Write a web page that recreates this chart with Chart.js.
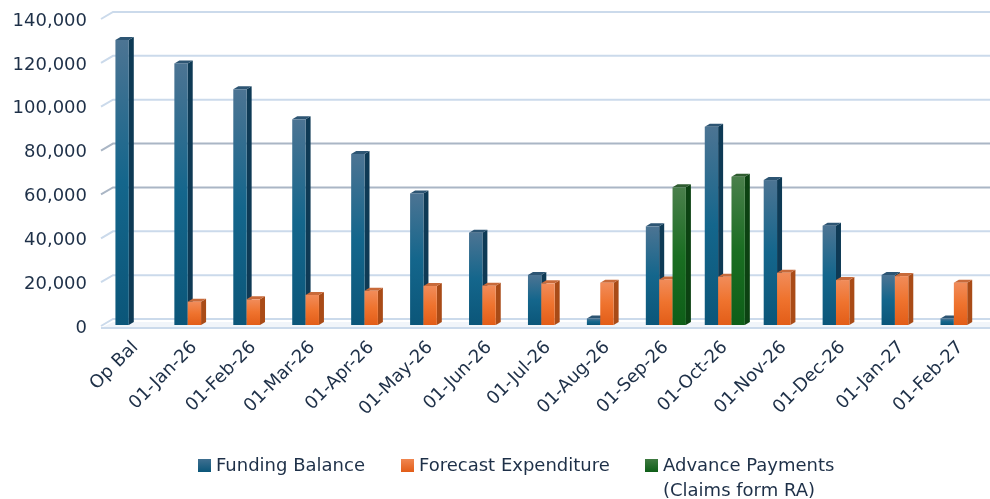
<!DOCTYPE html>
<html>
<head>
<meta charset="utf-8">
<script src="https://cdn.jsdelivr.net/npm/chart.js@4.4.1/dist/chart.umd.min.js"></script>
<style>
  html, body { margin: 0; padding: 0; background: #ffffff; }
  #wrap { position: relative; width: 990px; height: 499px; }
  #legend { position: absolute; left: 0; top: 452px; width: 990px; font-family: "DejaVu Sans", sans-serif; font-size: 18px; color: #1e3048; }
  .li { position: absolute; top: 0; line-height: 25px; }
  .sw { position: absolute; left: 0; top: 7px; width: 13px; height: 13px; }
  .tx { position: absolute; left: 18px; top: 0; white-space: nowrap; }
</style>
</head>
<body>
<div id="wrap">
  <canvas id="c" width="990" height="499"></canvas>
  <div id="legend"></div>
</div>
<script>
const categories = ["Op Bal","01-Jan-26","01-Feb-26","01-Mar-26","01-Apr-26","01-May-26","01-Jun-26","01-Jul-26","01-Aug-26","01-Sep-26","01-Oct-26","01-Nov-26","01-Dec-26","01-Jan-27","01-Feb-27"];
const fundingBalance = [130000,119300,107500,93800,78000,60000,42100,22800,3000,45000,90400,66100,45300,22800,3000];
const forecastExpenditure = [null,10600,11700,13700,15600,17800,17900,19000,19300,20800,22000,23800,20500,22300,19300];
const advancePayments = [null,null,null,null,null,null,null,null,null,62800,67600,null,null,null,null];
const seriesNames = ["Funding Balance","Forecast Expenditure",["Advance Payments","(Claims form RA)"]];
const yTicks = [0,20000,40000,60000,80000,100000,120000,140000];

const palettes = [
  {top:"#4c7493", mid:"#14668c", bot:"#0b5679", side:"#0e3a55", cap:"#2d5573", sw:["#3f6f90","#0b5679"]},
  {top:"#f18c5a", mid:"#ef732e", bot:"#e25d18", side:"#a94b17", cap:"#c86a3a", sw:["#f08650","#e25d18"]},
  {top:"#4a7f4b", mid:"#1a6e22", bot:"#0e5e18", side:"#0c4212", cap:"#2f5c30", sw:["#3f7a41","#0e5e18"]}
];
const DX = 5, DY = -3;     // bar depth
const WX = 12, WY = -6;    // wall depth
const AREA = { top: 18, bottom: 325, left: 106, right: 990 };

const gridPlugin = {
  id: "grid3d",
  afterLayout(chart) {
    const a = chart.chartArea;
    a.top = AREA.top; a.bottom = AREA.bottom; a.left = AREA.left; a.right = AREA.right;
    a.width = a.right - a.left; a.height = a.bottom - a.top;
    const y = chart.scales.y, x = chart.scales.x;
    y.top = AREA.top; y.bottom = AREA.bottom; y.height = AREA.bottom - AREA.top;
    y.configure();
    x.left = AREA.left; x.right = AREA.right; x.width = AREA.right - AREA.left;
    x.configure();
  },
  beforeDatasetsDraw(chart) {
    const ctx = chart.ctx, y = chart.scales.y, a = chart.chartArea;
    const left = a.left - 5, right = a.right;
    ctx.save();
    const y0 = y.getPixelForValue(0);
    ctx.fillStyle = "#f1f5fa";
    ctx.beginPath();
    ctx.moveTo(left, y0 + 3); ctx.lineTo(left + WX, y0 + 3 + WY); ctx.lineTo(right, y0 + 3 + WY); ctx.lineTo(right, y0 + 3); ctx.closePath();
    ctx.fill();
    ctx.lineWidth = 2;
    ctx.strokeStyle = "#cbdaeb";
    ctx.beginPath(); ctx.moveTo(left, y0 + 3); ctx.lineTo(right, y0 + 3); ctx.stroke();
    yTicks.forEach(v => {
      const py = y.getPixelForValue(v);
      const dark = (v === 60000 || v === 80000);
      ctx.strokeStyle = dark ? "#aab6c5" : "#cbdaeb";
      ctx.lineWidth = 2;
      ctx.beginPath();
      ctx.moveTo(left, py + 1);
      ctx.lineTo(left + WX, py + WY);
      ctx.lineTo(right, py + WY);
      ctx.stroke();
    });
    ctx.restore();
  },
  afterDatasetsDraw(chart) {
    const ctx = chart.ctx;
    ctx.save();
    chart.data.datasets.forEach((ds, di) => {
      const meta = chart.getDatasetMeta(di);
      const p = palettes[di];
      meta.data.forEach((bar, i) => {
        if (ds.data[i] == null) return;
        const w = bar.width, x0 = bar.x - w / 2, x1 = bar.x + w / 2, yt = bar.y, yb = bar.base;
        ctx.fillStyle = p.side;
        ctx.beginPath();
        ctx.moveTo(x1, yb); ctx.lineTo(x1 + DX, yb + DY); ctx.lineTo(x1 + DX, yt + DY); ctx.lineTo(x1, yt); ctx.closePath();
        ctx.fill();
        ctx.fillStyle = p.cap;
        ctx.beginPath();
        ctx.moveTo(x0, yt); ctx.lineTo(x0 + DX, yt + DY); ctx.lineTo(x1 + DX, yt + DY); ctx.lineTo(x1, yt); ctx.closePath();
        ctx.fill();
        const g = ctx.createLinearGradient(0, yt, 0, yb);
        g.addColorStop(0, p.top); g.addColorStop(0.5, p.mid); g.addColorStop(1, p.bot);
        ctx.fillStyle = g;
        ctx.fillRect(x0, yt, w, yb - yt);
      });
    });
    ctx.restore();
  }
};

new Chart(document.getElementById("c"), {
  type: "bar",
  data: {
    labels: categories,
    datasets: [
      { label: "Funding Balance", data: fundingBalance, backgroundColor: "rgba(0,0,0,0)" },
      { label: "Forecast Expenditure", data: forecastExpenditure, backgroundColor: "rgba(0,0,0,0)" },
      { label: "Advance Payments (Claims form RA)", data: advancePayments, backgroundColor: "rgba(0,0,0,0)" }
    ]
  },
  options: {
    responsive: false,
    animation: false,
    layout: { padding: { top: 18, right: 0, bottom: 0, left: 0 } },
    categoryPercentage: 0.68,
    barPercentage: 1.0,
    plugins: { legend: { display: false }, tooltip: { enabled: false } },
    scales: {
      x: {
        grid: { display: false, drawTicks: false },
        border: { display: false },
        ticks: { font: { family: "DejaVu Sans", size: 18 }, color: "#1e3048", minRotation: 45, maxRotation: 45, padding: 12, autoSkip: false },
        afterFit(s) { s.height = 174; }
      },
      y: {
        min: 0, max: 140000,
        afterBuildTicks(s) { s.ticks = yTicks.map(v => ({ value: v })); },
        grid: { display: false, drawTicks: false },
        border: { display: false },
        ticks: { font: { family: "DejaVu Sans", size: 18 }, color: "#1e3048", padding: 19, labelOffset: 3,
          callback: v => v.toLocaleString("en-US") },
        afterFit(s) { s.width = 106; }
      }
    }
  },
  plugins: [gridPlugin]
});

const legend = document.getElementById("legend");
const legendX = [198, 401, 645];
seriesNames.forEach((name, i) => {
  const d = document.createElement("div");
  d.className = "li";
  d.style.left = legendX[i] + "px";
  const sw = document.createElement("div");
  sw.className = "sw";
  sw.style.background = "linear-gradient(" + palettes[i].sw[0] + "," + palettes[i].sw[1] + ")";
  const t = document.createElement("div");
  t.className = "tx";
  t.innerHTML = (Array.isArray(name) ? name : [name]).map(s => s.replace(/&/g,"&amp;").replace(/</g,"&lt;")).join("<br>");
  d.appendChild(sw); d.appendChild(t);
  legend.appendChild(d);
});
</script>
</body>
</html>
